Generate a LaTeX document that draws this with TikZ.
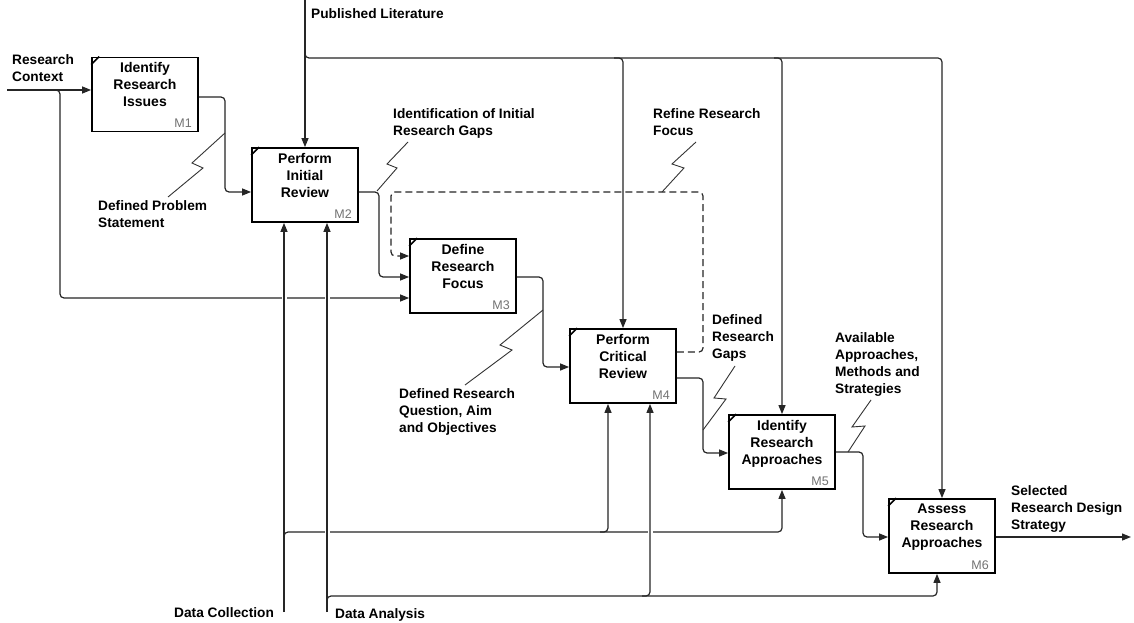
\documentclass[tikz,border=0pt]{standalone}
\usepackage{fontspec}
\setmainfont{Liberation Sans}
\usetikzlibrary{arrows.meta,calc}

\tikzset{
  fn/.style={draw=black, line width=1.8pt, minimum width=106pt, minimum height=74pt,
             inner sep=0pt, fill=white},
  fntitle/.style={anchor=north, align=center, inner sep=0pt,
                  font=\fontsize{14}{17}\selectfont\bfseries},
  fnnum/.style={anchor=south east, inner sep=0pt,
                font=\fontsize{12.5}{14}\selectfont, text=black!55},
  flow/.style={draw=black!85, line width=1.2pt, rounded corners=4pt},
  tip/.style={-{Triangle[length=9pt,width=7pt]}},
  fbk/.style={flow, dash pattern=on 7pt off 4pt},
  lbl/.style={anchor=north west, align=left, inner sep=0pt,
              font=\fontsize{13.7}{17}\selectfont\bfseries},
  squig/.style={draw=black!80, line width=0.9pt, line join=miter},
  gapmask/.style={fill=white, draw=none}
}

% activity box: name, centre, title, number
\newcommand\fnbox[4]{%
  \node[fn] (#1) at (#2) {};
  \node[fntitle] at ([yshift=-6pt]#1.north) {#3};
  \node[fnnum] at ([xshift=-7pt,yshift=4.5pt]#1.south east) {#4};
  \draw[line width=1.5pt] ([yshift=-8pt]#1.north west) -- ([xshift=8pt]#1.north west);
}

\begin{document}
\begin{tikzpicture}[x=1pt,y=-1pt]
\useasboundingbox[fill=white] (0,0) rectangle (1134,623);

% ---- activities ----
\fnbox{M1}{145,94.5}{Identify\\Research\\Issues}{M1}
\fnbox{M2}{305,185}{Perform\\Initial\\Review}{M2}
\fnbox{M3}{463,276}{Define\\Research\\Focus}{M3}
\fnbox{M4}{623,366}{Perform\\Critical\\Review}{M4}
\fnbox{M5}{782,452}{Identify\\Research\\Approaches}{M5}
\fnbox{M6}{942,536}{Assess\\Research\\Approaches}{M6}

% ---- boundary points ----
\coordinate (rcin) at (7,90);
\coordinate (litin) at (305,0);
\coordinate (dcin) at (284,612);
\coordinate (dain) at (327,612);
\coordinate (out) at (1131,537);

% ---- inputs ----
\draw[flow,tip] (rcin) -- (rcin -| M1.west);
\draw[flow,tip] (52,90) -- (60,90) -- (60,298) -- (M3.west |- 0,298);

% ---- controls from the literature ----
\draw[flow,tip] (litin) -- (M2.north);
\draw[flow,tip] (305,50) -- (305,58) -- (M6.north |- 0,58) -- (M6.north);
\draw[flow,tip] (614,58) -- (M4.north |- 0,58) -- (M4.north);
\draw[flow,tip] (774,58) -- (M5.north |- 0,58) -- (M5.north);

% ---- outputs between activities ----
\draw[flow,tip] (M1.east |- 0,97) -- (225,97) -- (225,192) -- (M2.west |- 0,192);
\draw[flow,tip] (M2.east |- 0,192) -- (379,192) -- (379,277) -- (M3.west |- 0,277);
\draw[fbk,tip] (M4.east |- 0,352) -- (703,352) -- (703,192) -- (391,192) -- (391,256) -- (M3.west |- 0,256);
\draw[flow,tip] (M3.east |- 0,277) -- (543,277) -- (543,367) -- (M4.west |- 0,367);
\draw[flow,tip] (M4.east |- 0,378) -- (703,378) -- (703,453) -- (M5.west |- 0,453);
\draw[flow,tip] (M5.east |- 0,452) -- (863,452) -- (863,537) -- (M6.west |- 0,537);
\draw[flow,tip] (M6.east |- out) -- (out);

% ---- mechanisms ----
\draw[flow,tip] (284,540) -- (284,532) -- (M5.south |- 0,532) -- (M5.south);
\draw[flow,tip] (600,532) -- (608,532) -- (M4.south -| 608,0);
% gaps where lines cross
\path[gapmask] (281.5,294.5) rectangle (286.5,301.5);
\path[gapmask] (324.5,294.5) rectangle (329.5,301.5);
\path[gapmask] (324.5,528.5) rectangle (329.5,535.5);
\path[gapmask] (647.5,528.5) rectangle (652.5,535.5);
\draw[flow,tip] (dcin) -- (M2.south -| dcin);
\draw[flow,tip] (dain) -- (M2.south -| dain);
\draw[flow,tip] (327,604) -- (327,596) -- (937,596) -- (M6.south -| 937,0);
\draw[flow,tip] (642,596) -- (650,596) -- (M4.south -| 650,0);

% ---- leader squiggles ----
\draw[squig] (225,133) -- (192,163) -- (203,168) -- (168,197);
\draw[squig] (408,142) -- (387,164) -- (397,168) -- (377,191);
\draw[squig] (696,142) -- (672,164) -- (684,168) -- (662,192);
\draw[squig] (543,310) -- (500,345) -- (512,350) -- (465,385);
\draw[squig] (735,366) -- (714,398) -- (726,399) -- (703,430);
\draw[squig] (871,400) -- (852,427) -- (865,426) -- (848,452);

% ---- labels ----
\node[lbl] (lRC) at (12,54) {Research\\Context};
\node[lbl] (lPL) at (311,8) {Published Literature};
\node[lbl] (lDP) at (98,200) {Defined Problem\\Statement};
\node[lbl] (lIG) at (393,108) {Identification of Initial\\Research Gaps};
\node[lbl] (lRF) at (653,108) {Refine Research\\Focus};
\node[lbl] (lRQ) at (399,388) {Defined Research\\Question, Aim\\and Objectives};
\node[lbl] (lRG) at (712,314) {Defined\\Research\\Gaps};
\node[lbl] (lAA) at (835,332) {Available\\Approaches,\\Methods and\\Strategies};
\node[lbl] (lSD) at (1011,485) {Selected\\Research Design\\Strategy};
\node[lbl] (lDC) at (174,607) {Data Collection};
\node[lbl] (lDA) at (335,608) {Data Analysis};
\end{tikzpicture}
\end{document}
